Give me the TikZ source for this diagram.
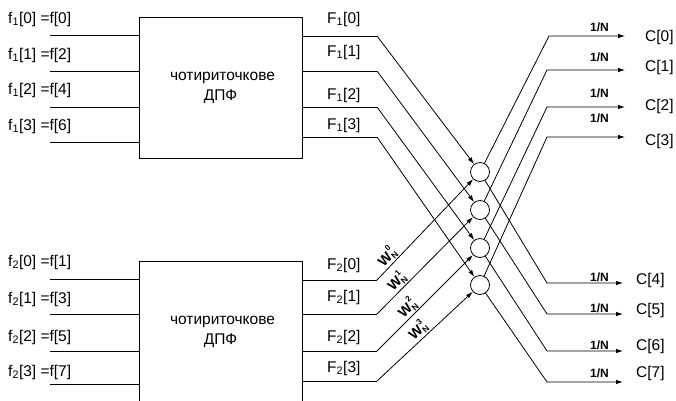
\documentclass[tikz,border=0pt]{standalone}
\usepackage{fontspec}
\setmainfont{Liberation Sans}
\usetikzlibrary{arrows.meta}
\newcommand{\wlabel}[1]{W\makebox[0pt][l]{\raisebox{1.05ex}{\fontsize{8}{8}\selectfont\,#1}}\raisebox{-0.35ex}{\fontsize{8.5}{8}\selectfont N}}
\begin{document}
\begin{tikzpicture}[x=1pt,y=-1pt,
  wire/.style={line width=0.8pt},
  arr/.style={wire,-{Latex[length=7pt,width=4.5pt]}},
  dft/.style={draw,line width=0.8pt,minimum width=163pt,minimum height=141pt,align=center,inner sep=0,font=\fontsize{15.5}{20}\selectfont},
  lbl/.style={anchor=west,inner sep=0,font=\fontsize{15.5}{17}\selectfont},
  nlbl/.style={anchor=west,inner sep=0,font=\bfseries\fontsize{12}{13}\selectfont},
  wlbl/.style={sloped,above,inner sep=1pt,font=\bfseries\fontsize{14}{15}\selectfont},
  sum/.style={draw,circle,line width=0.8pt,minimum size=19pt,inner sep=0}]
\useasboundingbox (0,0) rectangle (676,400);
\fill[white] (0,0) rectangle (676,400);

% DFT blocks
\node[dft] (d1) at (220.5,87.5) {\hspace*{4pt}чотириточкове\\ДПФ};
\node[dft] (d2) at (220.5,331.5) {\hspace*{4pt}чотириточкове\\ДПФ};

% inputs, top block
\foreach \k/\y/\ly/\j in {0/35/19/0,1/71/55/2,2/107/90/4,3/142/126/6}{
  \coordinate (a\k) at (50,\y);
  \draw[wire] (a\k) -- (a\k -| d1.west);
  \node[lbl] (la\k) at (8,\ly) {f\textsubscript{1}[\k] =f[\j]};
}
% inputs, bottom block
\foreach \k/\y/\ly/\j in {0/279/262/1,1/314/299/3,2/351/337/5,3/384/372/7}{
  \coordinate (b\k) at (50,\y);
  \draw[wire] (b\k) -- (b\k -| d2.west);
  \node[lbl] (lb\k) at (8,\ly) {f\textsubscript{2}[\k] =f[\j]};
}

% butterfly nodes
\node[sum] (s0) at (480,172) {};
\node[sum] (s1) at (480,210) {};
\node[sum] (s2) at (480,248) {};
\node[sum] (s3) at (480,285) {};

% outputs of top block
\foreach \k/\y/\ly in {0/36/19,1/71/52,2/107/95,3/137/125}{
  \coordinate (p\k) at (377,\y);
  \draw[wire] (p\k -| d1.east) -- (p\k);
  \draw[arr] (p\k) -- (s\k);
  \node[lbl] (lp\k) at (327,\ly) {F\textsubscript{1}[\k]};
}
% outputs of bottom block
\foreach \k/\y/\ly/\ps in {0/280/265/0.17,1/314/297/0.27,2/351/337/0.38,3/381/368/0.49}{
  \coordinate (q\k) at (377,\y);
  \draw[wire] (q\k -| d2.east) -- (q\k);
  \draw[arr] (q\k) -- (s\k) node[wlbl,pos=\ps] {\wlabel{\k}};
  \node[lbl] (lq\k) at (327,\ly) {F\textsubscript{2}[\k]};
}

% results C[0..3]
\foreach \k/\x/\y/\ny/\cy in {0/549/36/27/37,1/547/70/57/67,2/547/107/93/106,3/547/137/118/141}{
  \coordinate (u\k) at (\x,\y);
  \coordinate (ue\k) at (625,\y);
  \draw[arr] (s\k) -- (u\k) -- (ue\k);
  \node[nlbl] (nu\k) at (590,\ny) {1/N};
  \node[lbl] (cu\k) at (645,\cy) {C[\k]};
}
% results C[4..7]
\foreach \k/\y/\ny/\cy/\m in {0/283/277/280/4,1/314/308/310/5,2/351/345/346/6,3/382/373/373/7}{
  \coordinate (v\k) at (547,\y);
  \coordinate (ve\k) at (623,\y);
  \draw[arr] (s\k) -- (v\k) -- (ve\k);
  \node[nlbl] (nv\k) at (590,\ny) {1/N};
  \node[lbl] (cv\k) at (636,\cy) {C[\m]};
}
\end{tikzpicture}
\end{document}
